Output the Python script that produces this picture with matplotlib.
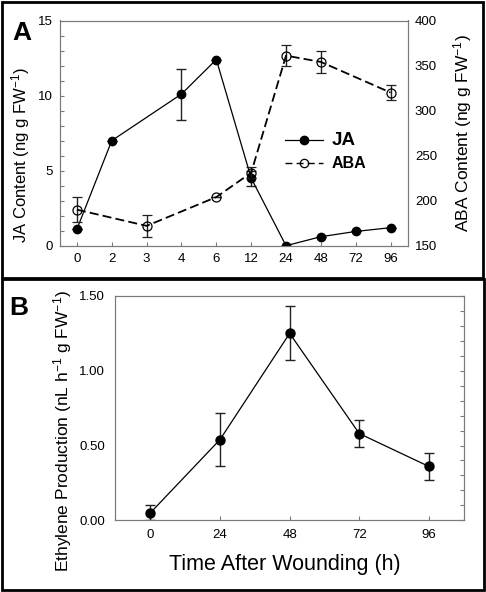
import matplotlib
matplotlib.use("Agg")
import matplotlib.pyplot as plt
from matplotlib.lines import Line2D
from matplotlib.ticker import MultipleLocator

plt.rcParams['font.family'] = ['Liberation Sans', 'DejaVu Sans']
plt.rcParams['mathtext.default'] = 'regular'

# Panel A data (categorical time axis)
times_a = ["0", "2", "3", "4", "6", "12", "24", "48", "72", "96"]
ja_idx = [0, 1, 3, 4, 5, 6, 7, 8, 9]
ja_val = [1.1, 7.0, 10.1, 12.4, 4.5, 0.0, 0.6, 0.95, 1.2]
ja_err = [0.0, 0.0, 1.7, 0.0, 0.5, 0.0, 0.0, 0.0, 0.0]
aba_idx = [0, 2, 4, 5, 6, 7, 9]
aba_val = [190, 172, 204, 231, 361, 354, 320]
aba_err = [14, 12, 0, 6, 12, 12.5, 8.5]

# Panel B data
times_b = [0, 24, 48, 72, 96]
eth_val = [0.05, 0.54, 1.25, 0.58, 0.36]
eth_err = [0.05, 0.18, 0.18, 0.093, 0.09]

W, H = 486, 592
fig = plt.figure(figsize=(W / 100, H / 100), dpi=100)

spine_col = '#7a7a7a'
tick_fs = 9.5

# ---------- Panel A ----------
ax = fig.add_axes([59.5 / W, 1 - 245.7 / H, 348.5 / W, 225.2 / H])
ax2 = ax.twinx()

ax.errorbar(ja_idx, ja_val, yerr=ja_err, color='black', lw=0.9, marker='o',
            ms=6, mfc='black', mec='black', ecolor='#222222', elinewidth=1,
            capsize=3.5, capthick=1, zorder=3)
ax2.errorbar(aba_idx, aba_val, yerr=aba_err, color='black', lw=1.3,
             dashes=(5, 2.3), marker='o', ms=6.5, mfc='none', mec='black',
             mew=0.9, ecolor='#222222', elinewidth=1, capsize=3.5,
             capthick=1, zorder=3)

ax.set_xlim(-0.5, 9.5)
ax.set_ylim(0, 15)
ax2.set_ylim(150, 400)
ax.set_xticks(range(len(times_a)))
ax.set_xticklabels(times_a)
ax.set_yticks([0, 5, 10, 15])
ax.yaxis.set_minor_locator(MultipleLocator(1))
ax2.set_yticks([150, 200, 250, 300, 350, 400])

ax.tick_params(axis='both', which='both', direction='in', color=spine_col,
               labelsize=tick_fs, width=0.8)
ax.tick_params(axis='y', which='major', length=3, pad=5)
ax.tick_params(axis='y', which='minor', length=3)
ax.tick_params(axis='x', length=3, pad=5)
ax2.tick_params(axis='y', length=0, labelsize=tick_fs, pad=5)

for a in (ax, ax2):
    for s in a.spines.values():
        s.set_color(spine_col)
        s.set_linewidth(0.8)

ax.set_ylabel(r'JA Content (ng g FW$^{-1}$)', fontsize=12)
ax.yaxis.set_label_coords(-0.078, 0.40)
ax2.set_ylabel(r'ABA Content (ng g FW$^{-1}$)', fontsize=12.5, labelpad=10)

handles = [Line2D([], [], color='black', lw=0.9, marker='o', ms=6,
                  mfc='black'),
           Line2D([], [], color='black', lw=1.0, dashes=(5, 3), marker='o',
                  ms=6, mfc='none', mew=0.9)]
leg = ax.legend(handles, ['JA', 'ABA'], loc='upper left',
                bbox_to_anchor=(0.61, 0.56), frameon=False, handlelength=2.8,
                handletextpad=0.6, labelspacing=0.5)
leg.get_texts()[0].set_fontsize(13.5)
leg.get_texts()[0].set_fontweight('bold')
leg.get_texts()[1].set_fontsize(11.5)
leg.get_texts()[1].set_fontweight('bold')

# ---------- Panel B ----------
bx = fig.add_axes([115 / W, 1 - 520.3 / H, 349.3 / W, 224.3 / H])
bx.errorbar(times_b, eth_val, yerr=eth_err, color='black', lw=0.9,
            marker='o', ms=6.5, mfc='black', mec='black', ecolor='#222222',
            elinewidth=1, capsize=3.5, capthick=1, zorder=3)
bx.set_xlim(-12.2, 108.2)
bx.set_ylim(0, 1.5)
bx.set_xticks(times_b)
bx.set_yticks([0, 0.5, 1.0, 1.5])
bx.set_yticklabels(['0.00', '0.50', '1.00', '1.50'])
bx.tick_params(axis='x', direction='in', length=3, color=spine_col,
               labelsize=tick_fs, pad=6, width=0.8)
bx.tick_params(axis='y', length=0, labelsize=tick_fs, pad=7)

bright = bx.twinx()
bright.set_ylim(0, 1.5)
bright.yaxis.set_major_locator(MultipleLocator(0.1))
bright.tick_params(axis='y', direction='in', length=3, color=spine_col,
                   labelright=False, width=0.8)
for a in (bx, bright):
    for s in a.spines.values():
        s.set_color(spine_col)
        s.set_linewidth(0.8)

bx.set_ylabel(r'Ethylene Production (nL h$^{-1}$ g FW$^{-1}$)', fontsize=12.5)
bx.yaxis.set_label_coords(-0.117, 0.40)
bx.set_xlabel('Time After Wounding (h)', fontsize=15.5)
bx.xaxis.set_label_coords(0.485, -0.15)

# ---------- panel frames and letters ----------
fig.add_artist(plt.Rectangle((1.5 / W, 1 - 278 / H), 481 / W, 276.5 / H,
                             transform=fig.transFigure, fill=False,
                             ec='black', lw=2))
fig.add_artist(plt.Rectangle((1.5 / W, 1 - 590 / H), 482.5 / W, 311 / H,
                             transform=fig.transFigure, fill=False,
                             ec='black', lw=2))
fig.text(22 / W, 1 - 33 / H, 'A', fontsize=19, fontweight='bold',
         ha='center', va='center')
fig.text(19 / W, 1 - 308 / H, 'B', fontsize=19, fontweight='bold',
         ha='center', va='center')

fig.savefig('out.png', dpi=100)
